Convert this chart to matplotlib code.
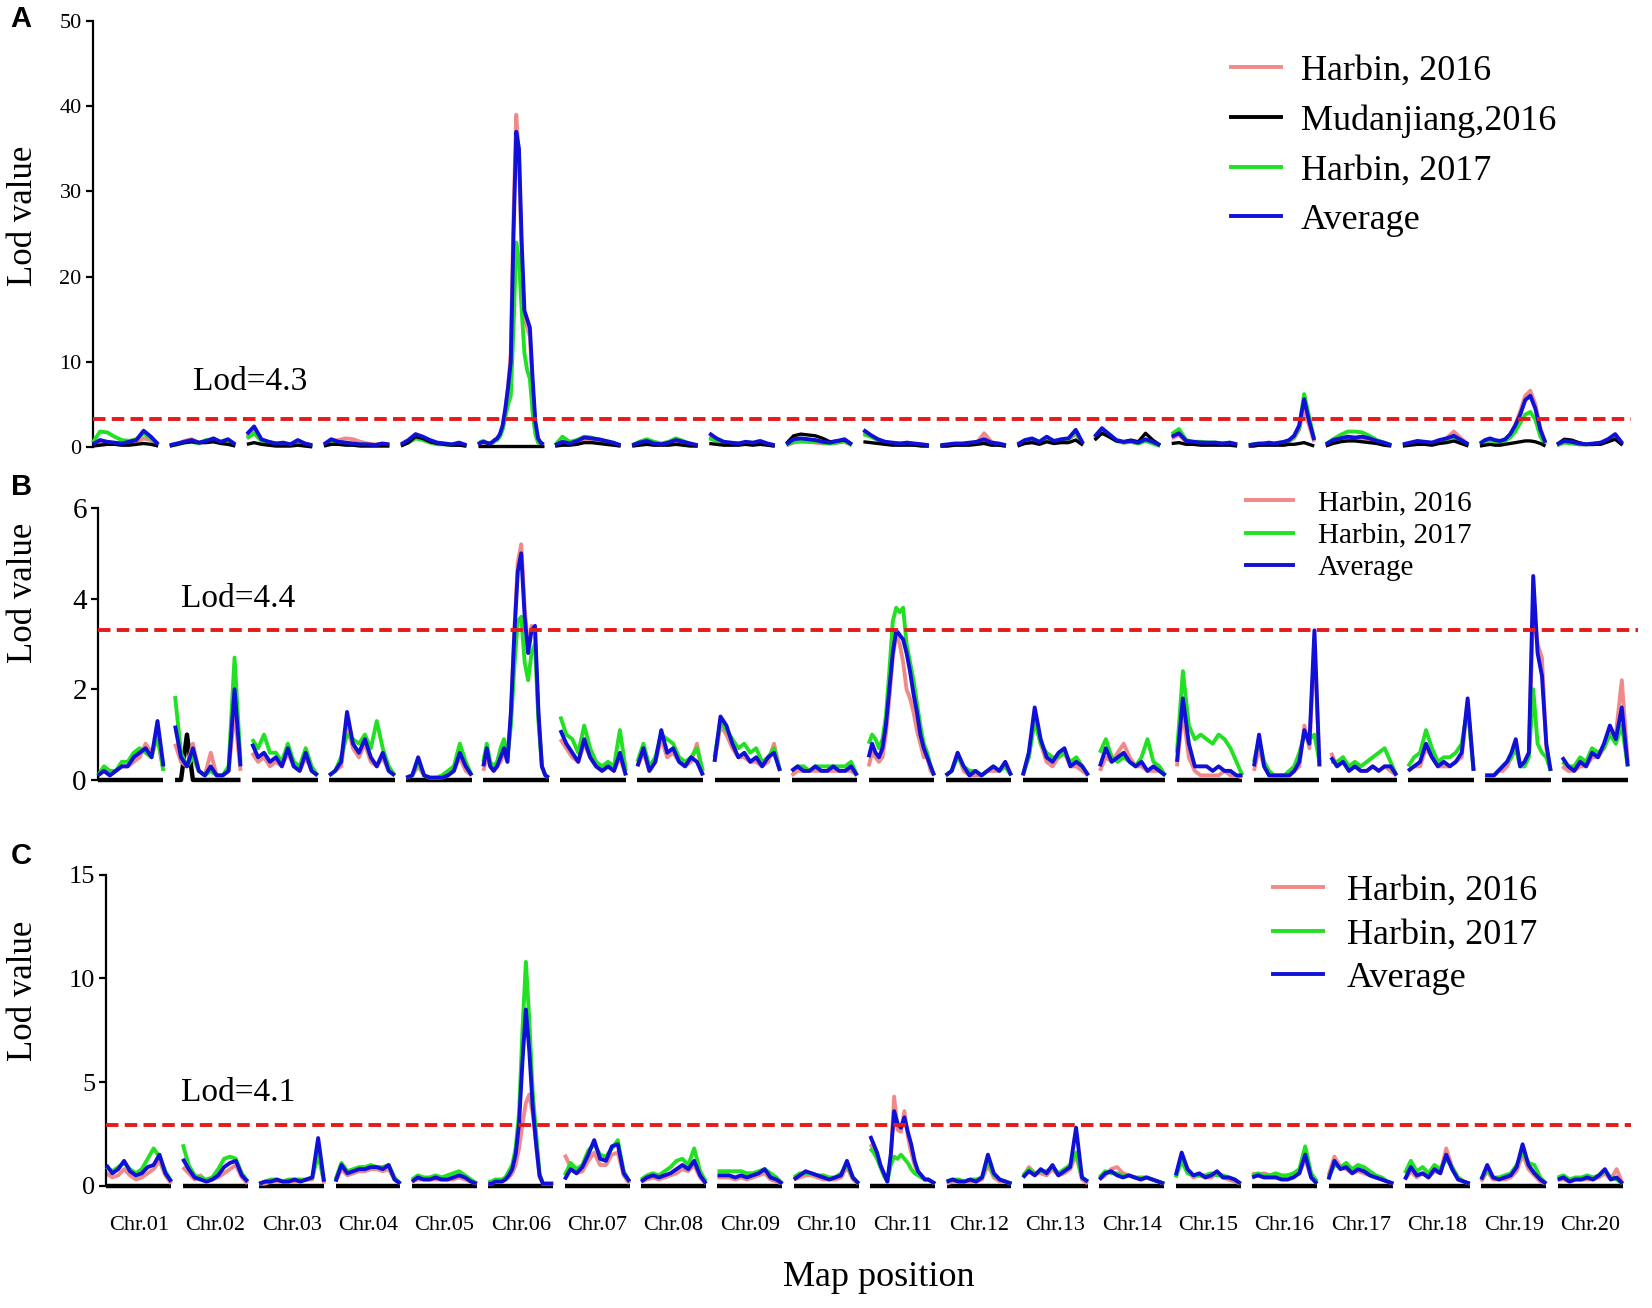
import numpy as np
import matplotlib
matplotlib.use("Agg")
import matplotlib.pyplot as plt
from matplotlib.lines import Line2D

plt.rcParams["font.family"] = ["Liberation Serif", "DejaVu Serif"]
plt.rcParams["lines.scale_dashes"] = False

# ---------------- data ----------------
chrom_names = ["Chr.01", "Chr.02", "Chr.03", "Chr.04", "Chr.05", "Chr.06", "Chr.07",
               "Chr.08", "Chr.09", "Chr.10", "Chr.11", "Chr.12", "Chr.13", "Chr.14",
               "Chr.15", "Chr.16", "Chr.17", "Chr.18", "Chr.19", "Chr.20"]
chrom_len = 62      # map length of each linkage group (plot units)
chrom_gap = 11      # gap between linkage groups

thresholds = {"A": 3.3, "B": 3.3, "C": 2.95}
threshold_labels = {"A": "Lod=4.3", "B": "Lod=4.4", "C": "Lod=4.1"}
A_ticks = [0, 10, 20, 30, 40, 50]
B_ticks = [0, 2, 4, 6]
C_ticks = [0, 5, 10, 15]

# Panel A
A_harbin2016 = [
    [0.2,0.5,0.5,0.4,0.3,0.4,0.5,1.0,0.8,0.2],
    [0.2,0.3,0.7,0.9,0.5,0.6,0.8,0.5,0.7,0.2],
    [1.2,2.0,0.8,0.5,0.3,0.4,0.3,0.6,0.3,0.2],
    [0.2,0.7,0.8,1.0,0.9,0.6,0.4,0.3,0.3,0.2],
    [0.2,0.6,1.2,1.0,0.6,0.4,0.3,0.2,0.4,0.1],
    [0.2,0.4,0.5,0.4,0.3,0.4,0.6,0.9,1.3,2.3,4.2,7,11,27,39,34,22,15,14,13,7,2.5,0.8,0.4,0.2],
    [0.1,0.4,0.3,0.5,0.8,0.8,0.7,0.5,0.4,0.1],
    [0.1,0.4,0.5,0.3,0.3,0.4,0.6,0.5,0.3,0.1],
    [1.2,0.8,0.5,0.4,0.3,0.5,0.4,0.5,0.3,0.1],
    [0.2,0.5,0.6,0.6,0.5,0.4,0.4,0.5,0.6,0.2],
    [1.8,1.3,0.8,0.5,0.4,0.4,0.4,0.3,0.3,0.1],
    [0.1,0.2,0.3,0.3,0.4,0.5,1.6,0.6,0.3,0.1],
    [0.2,0.6,0.8,0.5,1.0,0.6,0.7,0.9,1.5,0.3],
    [1.0,1.8,1.2,0.7,0.5,0.6,0.4,0.8,0.5,0.2],
    [1.0,1.4,0.6,0.5,0.4,0.4,0.4,0.3,0.4,0.2],
    [0.1,0.2,0.3,0.3,0.4,0.3,0.4,0.5,0.7,1.0,2.0,4.5,2.5,0.6],
    [0.2,0.6,0.8,1.0,0.9,1.0,0.8,0.6,0.4,0.2],
    [0.2,0.4,0.6,0.5,0.5,0.7,1.0,1.8,1.0,0.3],
    [0.3,0.6,0.8,0.7,0.6,0.8,1.4,2.6,4.2,6.0,6.6,5.0,2.2,0.4],
    [0.2,0.5,0.5,0.3,0.3,0.3,0.4,0.7,1.2,0.3],
]
A_mudanjiang2016 = [
    [0.1,0.2,0.3,0.3,0.2,0.2,0.3,0.4,0.3,0.1],
    [0.1,0.3,0.5,0.6,0.5,0.5,0.6,0.4,0.3,0.1],
    [0.3,0.5,0.3,0.2,0.1,0.1,0.1,0.2,0.1,0.0],
    [0.1,0.3,0.3,0.2,0.2,0.1,0.1,0.1,0.1,0.1],
    [0.1,0.5,1.2,1.0,0.6,0.4,0.3,0.2,0.2,0.1],
    [0.1,0.1,0.1,0.1,0.1,0.1,0.1,0.1,0.1,0.1,0.1,0.1,0.1,0.1,0.1,0.1,0.1,0.1,0.1,0.1,0.1,0.1,0.1,0.1,0.1],
    [0.1,0.2,0.2,0.3,0.5,0.5,0.4,0.3,0.2,0.1],
    [0.1,0.2,0.3,0.2,0.2,0.2,0.3,0.2,0.1,0.1],
    [0.4,0.3,0.2,0.2,0.2,0.3,0.2,0.3,0.2,0.1],
    [0.4,1.3,1.5,1.4,1.3,1.0,0.6,0.7,0.8,0.3],
    [0.6,0.5,0.4,0.3,0.2,0.2,0.2,0.2,0.1,0.1],
    [0.1,0.1,0.2,0.2,0.2,0.3,0.4,0.2,0.2,0.1],
    [0.1,0.4,0.5,0.3,0.6,0.4,0.5,0.5,0.8,0.2],
    [0.8,1.6,1.2,0.7,0.6,0.8,0.6,1.6,0.8,0.2],
    [0.4,0.5,0.3,0.3,0.2,0.2,0.2,0.2,0.2,0.1],
    [0.1,0.1,0.2,0.2,0.2,0.2,0.2,0.2,0.3,0.3,0.4,0.5,0.3,0.1],
    [0.1,0.4,0.6,0.7,0.7,0.6,0.5,0.4,0.2,0.1],
    [0.1,0.2,0.3,0.3,0.2,0.4,0.5,0.7,0.4,0.1],
    [0.1,0.2,0.3,0.2,0.2,0.3,0.4,0.5,0.6,0.7,0.7,0.6,0.4,0.1],
    [0.3,0.9,0.8,0.5,0.3,0.3,0.3,0.6,0.9,0.2],
]
A_harbin2017 = [
    [0.5,1.8,1.7,1.2,0.8,0.7,0.9,1.6,1.0,0.3],
    [0.1,0.3,0.5,0.6,0.4,0.8,0.7,0.5,0.6,0.2],
    [1.0,1.6,0.7,0.6,0.4,0.4,0.3,0.5,0.3,0.1],
    [0.2,0.6,0.5,0.4,0.3,0.3,0.2,0.2,0.3,0.2],
    [0.2,0.5,1.0,0.8,0.5,0.3,0.3,0.2,0.3,0.1],
    [0.3,0.6,0.7,0.5,0.4,0.5,0.7,0.8,1.2,2,3.5,5,6,14,24,22,16,11,9,8,4,1.5,0.5,0.4,0.2],
    [0.2,1.2,0.6,0.8,1.2,1.1,0.8,0.6,0.4,0.2],
    [0.2,0.6,0.9,0.6,0.4,0.6,1.0,0.7,0.3,0.1],
    [1.0,0.7,0.5,0.4,0.4,0.5,0.4,0.6,0.3,0.1],
    [0.2,0.6,0.7,0.6,0.6,0.5,0.4,0.5,0.7,0.2],
    [1.5,1.2,0.8,0.5,0.4,0.3,0.4,0.3,0.2,0.1],
    [0.1,0.2,0.3,0.3,0.3,0.4,0.7,0.4,0.3,0.1],
    [0.2,0.7,0.9,0.5,1.1,0.6,0.8,0.9,1.7,0.3],
    [0.9,1.7,1.2,0.7,0.5,0.6,0.4,0.7,0.4,0.1],
    [1.5,2.1,0.8,0.6,0.6,0.5,0.5,0.4,0.5,0.2],
    [0.2,0.3,0.3,0.4,0.4,0.4,0.4,0.5,0.7,1.2,2.2,6.2,3.5,0.9],
    [0.3,0.9,1.4,1.8,1.8,1.7,1.3,0.8,0.5,0.2],
    [0.2,0.4,0.5,0.5,0.4,0.6,0.9,1.2,0.7,0.2],
    [0.3,0.6,0.8,0.6,0.5,0.7,1.1,1.8,2.8,3.8,4.1,3.2,1.2,0.3],
    [0.2,0.5,0.4,0.3,0.3,0.3,0.4,0.8,1.3,0.3],
]
A_average = [
    [0.3,0.8,0.6,0.5,0.4,0.6,0.8,1.9,1.2,0.3],
    [0.2,0.4,0.6,0.8,0.5,0.7,1.0,0.6,0.9,0.3],
    [1.5,2.4,0.9,0.6,0.4,0.5,0.3,0.8,0.4,0.2],
    [0.3,0.9,0.6,0.5,0.4,0.3,0.3,0.2,0.4,0.3],
    [0.3,0.8,1.5,1.2,0.8,0.5,0.4,0.3,0.5,0.2],
    [0.3,0.5,0.6,0.5,0.4,0.5,0.8,1.0,1.5,2.5,4.5,7,10,25,37,35,24,16,15,14,8,3,1,0.5,0.3],
    [0.2,0.6,0.4,0.7,1.1,1.0,0.9,0.7,0.5,0.2],
    [0.2,0.5,0.7,0.4,0.3,0.5,0.8,0.6,0.4,0.2],
    [1.6,1.0,0.6,0.5,0.4,0.6,0.5,0.7,0.4,0.2],
    [0.3,0.9,1.0,0.9,0.8,0.6,0.5,0.7,0.9,0.3],
    [2.0,1.4,0.9,0.6,0.5,0.4,0.5,0.4,0.3,0.2],
    [0.2,0.3,0.4,0.4,0.5,0.6,0.9,0.5,0.4,0.2],
    [0.3,0.8,1.0,0.6,1.2,0.7,0.9,1.0,2.0,0.4],
    [1.2,2.2,1.5,0.8,0.6,0.7,0.5,0.9,0.6,0.2],
    [1.2,1.6,0.7,0.6,0.5,0.5,0.5,0.4,0.5,0.3],
    [0.2,0.3,0.4,0.4,0.5,0.4,0.5,0.6,0.8,1.3,2.5,5.6,3.0,0.8],
    [0.3,0.8,1.0,1.2,1.1,1.2,1.0,0.7,0.5,0.2],
    [0.3,0.5,0.7,0.6,0.5,0.8,1.0,1.3,0.8,0.3],
    [0.4,0.8,1.0,0.8,0.7,0.9,1.5,2.5,3.8,5.5,6.0,4.5,2.0,0.5],
    [0.3,0.7,0.6,0.4,0.3,0.4,0.5,0.9,1.5,0.4],
]

# Panel B
B_harbin2016 = [
    [0.1,0.2,0.1,0.2,0.3,0.3,0.4,0.5,0.8,0.6,0.9,0.2],
    [0.8,0.4,0.3,0.8,0.2,0.1,0.6,0.1,0.1,0.2,1.5,0.2],
    [0.6,0.4,0.5,0.3,0.4,0.3,0.6,0.3,0.2,0.5,0.2,0.1],
    [0.1,0.2,0.3,1.2,0.7,0.5,0.8,0.4,0.3,0.5,0.2,0.1],
    [0.05,0.1,0.3,0.1,0.05,0.05,0.05,0.1,0.2,0.5,0.2,0.1],
    [0.2,0.5,0.3,0.2,0.3,0.4,0.6,0.4,1.4,3.3,4.8,5.2,3.8,2.9,3.4,3.2,1.4,0.3,0.1,0.05],
    [0.9,0.7,0.5,0.4,0.8,0.5,0.3,0.2,0.3,0.2,0.5,0.1],
    [0.3,0.6,0.2,0.4,0.9,0.5,0.6,0.4,0.3,0.4,0.8,0.1],
    [0.4,1.2,1.0,0.7,0.5,0.5,0.4,0.4,0.3,0.4,0.8,0.2],
    [0.1,0.2,0.2,0.2,0.2,0.2,0.2,0.2,0.2,0.2,0.2,0.1],
    [0.3,0.6,0.5,0.4,0.5,1.0,1.8,2.7,3.2,3.0,2.6,2.0,1.8,1.5,1.1,0.8,0.5,0.5,0.2,0.1],
    [0.1,0.2,0.6,0.2,0.1,0.1,0.1,0.2,0.2,0.2,0.3,0.1],
    [0.1,0.5,1.4,0.8,0.4,0.3,0.5,0.6,0.3,0.3,0.2,0.1],
    [0.2,0.5,0.4,0.6,0.8,0.5,0.3,0.3,0.2,0.2,0.2,0.1],
    [0.3,1.5,0.5,0.2,0.1,0.1,0.1,0.1,0.2,0.1,0.1,0.05],
    [0.2,0.7,0.3,0.1,0.1,0.1,0.1,0.1,0.2,0.3,1.2,0.7,3.0,0.3],
    [0.6,0.3,0.5,0.2,0.3,0.2,0.2,0.3,0.2,0.3,0.2,0.1],
    [0.2,0.3,0.3,0.7,0.5,0.3,0.3,0.3,0.4,0.5,1.7,0.2],
    [0.1,0.1,0.1,0.2,0.2,0.3,0.5,0.8,0.3,0.4,0.6,3.8,3.0,2.7,0.7,0.2],
    [0.3,0.2,0.2,0.3,0.3,0.5,0.5,0.7,1.1,1.0,2.2,0.4],
]
B_harbin2017 = [
    [0.1,0.3,0.2,0.2,0.4,0.4,0.6,0.7,0.6,0.5,1.0,0.2],
    [1.85,0.6,0.3,0.5,0.2,0.1,0.2,0.1,0.1,0.3,2.7,0.4],
    [0.9,0.7,1.0,0.6,0.6,0.4,0.8,0.4,0.3,0.7,0.3,0.1],
    [0.1,0.2,0.5,1.0,0.9,0.8,1.0,0.7,1.3,0.7,0.3,0.1],
    [0.05,0.1,0.4,0.1,0.05,0.05,0.1,0.2,0.3,0.8,0.4,0.1],
    [0.4,0.8,0.4,0.3,0.4,0.7,0.9,0.5,1.2,2.5,3.5,3.6,2.6,2.2,2.8,3.0,1.3,0.3,0.1,0.05],
    [1.4,1.0,0.9,0.6,1.2,0.7,0.4,0.3,0.4,0.3,1.1,0.2],
    [0.4,0.8,0.3,0.5,1.0,0.9,0.8,0.5,0.4,0.5,0.7,0.2],
    [0.5,1.3,1.1,0.9,0.7,0.8,0.6,0.7,0.4,0.5,0.7,0.2],
    [0.2,0.3,0.3,0.2,0.3,0.3,0.3,0.3,0.3,0.3,0.4,0.1],
    [0.8,1.0,0.9,0.7,0.9,1.4,2.4,3.5,3.8,3.7,3.8,3.0,2.6,2.2,1.7,1.2,0.8,0.6,0.3,0.1],
    [0.1,0.2,0.5,0.3,0.2,0.2,0.1,0.2,0.3,0.2,0.3,0.1],
    [0.1,0.5,1.3,0.8,0.6,0.5,0.5,0.6,0.4,0.5,0.3,0.1],
    [0.6,0.9,0.5,0.4,0.5,0.4,0.3,0.5,0.9,0.4,0.3,0.1],
    [0.6,2.4,1.2,0.9,1.0,0.9,0.8,1.0,0.9,0.7,0.4,0.1],
    [0.4,0.9,0.4,0.2,0.1,0.1,0.1,0.2,0.3,0.6,1.0,0.9,1.0,0.4],
    [0.4,0.4,0.5,0.3,0.4,0.3,0.4,0.5,0.6,0.7,0.4,0.1],
    [0.3,0.5,0.6,1.1,0.7,0.4,0.5,0.5,0.6,0.8,1.6,0.2],
    [0.1,0.1,0.1,0.2,0.3,0.4,0.5,0.7,0.3,0.3,0.5,2.0,0.8,0.6,0.5,0.2],
    [0.4,0.3,0.3,0.5,0.4,0.7,0.6,0.7,1.0,0.8,1.2,0.3],
]
B_average = [
    [0.1,0.2,0.1,0.2,0.3,0.3,0.5,0.6,0.7,0.5,1.3,0.3],
    [1.2,0.5,0.3,0.7,0.2,0.1,0.3,0.1,0.1,0.2,2.0,0.3],
    [0.8,0.5,0.6,0.4,0.5,0.3,0.7,0.3,0.2,0.6,0.2,0.1],
    [0.1,0.2,0.4,1.5,0.8,0.6,0.9,0.5,0.3,0.6,0.2,0.1],
    [0.05,0.1,0.5,0.1,0.05,0.05,0.05,0.1,0.2,0.6,0.3,0.1],
    [0.3,0.7,0.3,0.2,0.3,0.5,0.7,0.4,1.5,3.2,4.6,5.0,3.6,2.8,3.3,3.4,1.5,0.3,0.1,0.05],
    [1.1,0.8,0.6,0.4,0.9,0.5,0.3,0.2,0.3,0.2,0.6,0.1],
    [0.3,0.7,0.2,0.4,1.1,0.6,0.7,0.4,0.3,0.5,0.4,0.1],
    [0.4,1.4,1.2,0.8,0.5,0.6,0.4,0.5,0.3,0.5,0.6,0.2],
    [0.2,0.3,0.2,0.2,0.3,0.2,0.2,0.3,0.2,0.2,0.3,0.1],
    [0.5,0.8,0.6,0.5,0.7,1.2,2.0,2.8,3.3,3.2,3.1,2.8,2.4,1.9,1.5,1.0,0.7,0.5,0.3,0.1],
    [0.1,0.2,0.6,0.3,0.1,0.2,0.1,0.2,0.3,0.2,0.4,0.1],
    [0.1,0.6,1.6,0.9,0.5,0.4,0.6,0.7,0.3,0.4,0.3,0.1],
    [0.3,0.7,0.4,0.5,0.6,0.4,0.3,0.4,0.2,0.3,0.2,0.1],
    [0.4,1.8,0.8,0.3,0.3,0.3,0.2,0.3,0.2,0.2,0.1,0.1],
    [0.3,1.0,0.3,0.1,0.1,0.1,0.1,0.1,0.2,0.4,1.1,0.8,3.3,0.3],
    [0.5,0.3,0.4,0.2,0.3,0.2,0.2,0.3,0.2,0.3,0.3,0.1],
    [0.2,0.3,0.4,0.8,0.5,0.3,0.4,0.3,0.4,0.6,1.8,0.2],
    [0.1,0.1,0.1,0.2,0.3,0.4,0.6,0.9,0.3,0.4,0.6,4.5,2.8,2.3,0.8,0.2],
    [0.5,0.3,0.2,0.4,0.3,0.6,0.5,0.8,1.2,0.9,1.6,0.3],
]
B_baseline = [
    [0.0,0.0], [0.0,0.0,1.0,0.0,0.0,0.0,0.0,0.0,0.0,0.0,0.0,0.0], [0.0,0.0], [0.0,0.0],
    [0.0,0.0], [0.0,0.0], [0.0,0.0], [0.0,0.0], [0.0,0.0], [0.0,0.0],
    [0.0,0.0], [0.0,0.0], [0.0,0.0], [0.0,0.0], [0.0,0.0], [0.0,0.0],
    [0.0,0.0], [0.0,0.0], [0.0,0.0], [0.0,0.0],
]

# Panel C
C_harbin2016 = [
    [0.6,0.4,0.5,0.8,0.5,0.3,0.4,0.6,0.8,1.2,0.5,0.1],
    [0.9,0.6,0.3,0.5,0.2,0.3,0.4,0.6,0.8,1.0,0.4,0.1],
    [0.1,0.1,0.2,0.2,0.2,0.2,0.2,0.2,0.3,0.3,1.8,0.1],
    [0.2,0.8,0.5,0.6,0.7,0.7,0.8,0.8,0.7,0.8,0.3,0.1],
    [0.2,0.3,0.3,0.3,0.3,0.3,0.3,0.3,0.4,0.3,0.2,0.1],
    [0.1,0.1,0.2,0.2,0.2,0.3,0.4,0.6,1.0,1.8,3.0,4.0,4.4,3.5,2.0,0.4,0.1,0.1,0.1,0.1],
    [1.5,0.9,0.6,0.7,1.2,1.6,1.0,1.0,1.5,1.6,0.5,0.1],
    [0.2,0.3,0.4,0.3,0.4,0.5,0.6,0.8,0.7,1.0,0.4,0.1],
    [0.4,0.4,0.4,0.3,0.4,0.3,0.4,0.5,0.6,0.3,0.2,0.1],
    [0.3,0.4,0.5,0.5,0.4,0.3,0.3,0.3,0.4,0.9,0.3,0.1],
    [2.0,1.8,1.4,0.9,0.5,0.2,1.3,4.3,2.7,2.6,3.6,2.4,1.6,1.0,0.6,0.5,0.3,0.3,0.2,0.1],
    [0.1,0.2,0.2,0.2,0.2,0.2,0.3,1.0,0.4,0.2,0.2,0.1],
    [0.4,0.9,0.6,0.6,0.5,0.8,0.5,0.6,0.8,1.5,0.3,0.1],
    [0.3,0.5,0.8,0.9,0.6,0.5,0.4,0.3,0.4,0.3,0.2,0.1],
    [0.4,1.3,0.7,0.4,0.5,0.4,0.4,0.6,0.4,0.3,0.2,0.1],
    [0.6,0.5,0.6,0.5,0.5,0.4,0.5,0.5,0.6,1.3,0.4,0.1],
    [0.5,1.4,0.9,0.8,0.6,0.7,0.6,0.5,0.4,0.3,0.2,0.1],
    [0.3,0.7,0.4,0.6,0.4,0.7,0.6,1.8,0.9,0.4,0.2,0.1],
    [0.2,0.7,0.3,0.3,0.3,0.4,0.7,1.5,0.8,0.5,0.2,0.1],
    [0.3,0.3,0.2,0.3,0.3,0.3,0.3,0.4,0.6,0.3,0.8,0.1],
]
C_harbin2017 = [
    [0.9,0.7,0.9,1.1,0.8,0.6,0.8,1.3,1.8,1.4,0.7,0.2],
    [2.0,1.0,0.5,0.4,0.3,0.4,0.8,1.3,1.4,1.3,0.6,0.2],
    [0.1,0.2,0.3,0.3,0.2,0.3,0.3,0.3,0.3,0.4,1.5,0.2],
    [0.3,1.1,0.7,0.8,0.9,0.9,1.0,0.9,0.9,1.0,0.4,0.1],
    [0.3,0.5,0.4,0.4,0.5,0.4,0.5,0.6,0.7,0.5,0.3,0.1],
    [0.2,0.2,0.3,0.3,0.3,0.4,0.7,1.0,1.8,3.5,7.5,10.8,8.0,4.5,2.5,0.6,0.1,0.1,0.1,0.1],
    [0.5,1.1,0.8,1.0,1.7,2.0,1.5,1.4,1.8,2.2,0.7,0.2],
    [0.3,0.5,0.6,0.5,0.7,0.9,1.2,1.3,1.0,1.8,0.7,0.2],
    [0.7,0.7,0.7,0.7,0.7,0.6,0.6,0.7,0.8,0.6,0.4,0.1],
    [0.4,0.6,0.6,0.6,0.5,0.5,0.4,0.4,0.6,1.0,0.4,0.1],
    [1.8,1.6,1.3,0.9,0.5,0.2,1.0,1.4,1.3,1.5,1.3,1.1,0.8,0.6,0.5,0.4,0.3,0.3,0.2,0.1],
    [0.2,0.3,0.3,0.2,0.3,0.3,0.4,1.2,0.5,0.3,0.2,0.1],
    [0.5,0.8,0.6,0.7,0.7,0.9,0.6,0.8,1.0,1.6,0.4,0.2],
    [0.4,0.7,0.6,0.6,0.5,0.5,0.4,0.4,0.4,0.3,0.2,0.1],
    [0.4,1.2,0.6,0.5,0.5,0.5,0.6,0.5,0.5,0.4,0.3,0.1],
    [0.5,0.6,0.5,0.5,0.6,0.5,0.5,0.6,0.8,1.9,0.6,0.2],
    [0.4,1.0,0.9,1.1,0.8,1.0,0.9,0.7,0.5,0.4,0.2,0.1],
    [0.6,1.2,0.7,0.9,0.6,1.0,0.8,1.3,0.9,0.4,0.2,0.1],
    [0.3,0.8,0.4,0.4,0.5,0.6,1.0,1.6,1.1,1.0,0.4,0.1],
    [0.4,0.5,0.3,0.4,0.4,0.5,0.4,0.5,0.7,0.4,0.3,0.1],
]
C_average = [
    [1.0,0.6,0.8,1.2,0.7,0.5,0.6,0.9,1.0,1.5,0.6,0.2],
    [1.3,0.8,0.4,0.3,0.2,0.3,0.5,0.9,1.1,1.2,0.5,0.2],
    [0.1,0.2,0.2,0.3,0.2,0.2,0.3,0.2,0.3,0.4,2.3,0.2],
    [0.2,1.0,0.6,0.7,0.8,0.8,0.9,0.9,0.8,1.0,0.3,0.1],
    [0.2,0.4,0.3,0.3,0.4,0.3,0.3,0.4,0.5,0.4,0.2,0.1],
    [0.1,0.1,0.2,0.2,0.2,0.3,0.5,0.8,1.5,3.0,6.0,8.5,6.5,3.8,2.0,0.5,0.1,0.1,0.1,0.1],
    [0.3,0.8,0.6,0.9,1.5,2.2,1.3,1.2,1.9,2.0,0.6,0.2],
    [0.2,0.4,0.5,0.4,0.5,0.6,0.8,1.0,0.8,1.2,0.5,0.1],
    [0.5,0.5,0.5,0.4,0.5,0.4,0.5,0.6,0.8,0.4,0.3,0.1],
    [0.3,0.5,0.7,0.6,0.5,0.4,0.3,0.4,0.5,1.2,0.4,0.1],
    [2.4,2.0,1.6,1.0,0.6,0.2,1.5,3.6,3.0,2.8,3.3,2.6,2.0,1.2,0.7,0.5,0.3,0.3,0.2,0.1],
    [0.2,0.3,0.2,0.2,0.3,0.2,0.4,1.5,0.6,0.3,0.2,0.1],
    [0.4,0.7,0.5,0.8,0.6,1.0,0.5,0.7,0.9,2.8,0.4,0.2],
    [0.3,0.6,0.7,0.5,0.4,0.5,0.4,0.3,0.4,0.3,0.2,0.1],
    [0.5,1.6,0.8,0.5,0.6,0.4,0.5,0.7,0.4,0.4,0.3,0.1],
    [0.4,0.5,0.4,0.4,0.4,0.3,0.3,0.4,0.6,1.5,0.4,0.1],
    [0.3,1.2,0.8,0.9,0.6,0.8,0.7,0.5,0.4,0.3,0.2,0.1],
    [0.3,0.9,0.5,0.6,0.4,0.8,0.6,1.5,0.8,0.3,0.2,0.1],
    [0.3,1.0,0.4,0.3,0.4,0.5,0.9,2.0,1.0,0.6,0.3,0.1],
    [0.3,0.4,0.2,0.3,0.3,0.4,0.3,0.5,0.8,0.3,0.4,0.1],
]
C_baseline = [
    [0.0,0.0], [0.0,0.0], [0.0,0.0], [0.0,0.0], [0.0,0.0], [0.0,0.0], [0.0,0.0],
    [0.0,0.0], [0.0,0.0], [0.0,0.0], [0.0,0.0], [0.0,0.0], [0.0,0.0], [0.0,0.0],
    [0.0,0.0], [0.0,0.0], [0.0,0.0], [0.0,0.0], [0.0,0.0], [0.0,0.0],
]

# ---------------- style ----------------
PINK = "#f08a88"
BLACK = "#000000"
GREEN = "#22e022"
BLUE = "#1010d8"
RED = "#e51b1b"
LW = 2.8

# layout frame of the reference picture (display pixels)
W, H = 1568.0, 1241.0
def fx(x): return x / W
def fy(y): return 1.0 - y / H

fig = plt.figure(figsize=(16.52, 13.08), dpi=100)

step = chrom_len + chrom_gap
xmax = 19 * step + chrom_len
centers = [i * step + chrom_len / 2 for i in range(20)]


def draw(ax, per_chrom, color, lw, z):
    for i, vals in enumerate(per_chrom):
        x = np.linspace(i * step, i * step + chrom_len, len(vals))
        ax.plot(x, vals, color=color, lw=lw, zorder=z, clip_on=False,
                solid_joinstyle="round", solid_capstyle="butt")


def setup(ax, ymax, yticks, tick_fs):
    ax.set_xlim(0, xmax + 8)
    ax.set_ylim(0, ymax)
    for s in ("top", "right", "bottom"):
        ax.spines[s].set_visible(False)
    ax.spines["left"].set_linewidth(1.6)
    ax.set_yticks(yticks)
    ax.set_yticklabels([str(t) for t in yticks], fontsize=tick_fs,
                       family=["Liberation Serif", "DejaVu Serif"])
    ax.tick_params(axis="y", length=5, width=1.6, pad=3)
    ax.set_xticks([])
    ax.patch.set_visible(False)


# Panel A
axA = fig.add_axes([fx(88), fy(424), fx(1548) - fx(88), fy(20) - fy(424)])
setup(axA, 50, A_ticks, 16)
draw(axA, A_harbin2016, PINK, LW, 2)
draw(axA, A_harbin2017, GREEN, LW, 3)
draw(axA, A_mudanjiang2016, BLACK, 2.4, 4)
draw(axA, A_average, BLUE, LW, 5)
axA.axhline(thresholds["A"], color=RED, lw=2.8, dashes=(9, 4.5), zorder=6)

# Panel B
axB = fig.add_axes([fx(93), fy(740), fx(1555) - fx(93), fy(482) - fy(740)])
setup(axB, 6, B_ticks, 21)
axB.set_xlim(0, xmax + 10)
draw(axB, B_baseline, BLACK, 3.2, 1)
draw(axB, B_harbin2016, PINK, LW, 2)
draw(axB, B_harbin2017, GREEN, LW, 3)
draw(axB, B_average, BLUE, LW, 5)
axB.axhline(thresholds["B"], color=RED, lw=2.8, dashes=(9, 4.5), zorder=6)

# Panel C
axC = fig.add_axes([fx(101), fy(1125), fx(1548) - fx(101), fy(830) - fy(1125)])
setup(axC, 15, C_ticks, 19)
draw(axC, C_baseline, BLACK, 3.2, 1)
draw(axC, C_harbin2016, PINK, LW, 2)
draw(axC, C_harbin2017, GREEN, LW, 3)
draw(axC, C_average, BLUE, LW, 5)
axC.axhline(thresholds["C"], color=RED, lw=2.8, dashes=(9, 4.5), zorder=6)
axC.set_xticks(centers)
axC.set_xticklabels(chrom_names, fontsize=16)
axC.tick_params(axis="x", length=0, pad=22)

# threshold labels
fig.text(fx(183), fy(362), threshold_labels["A"], fontsize=24, ha="left", va="center")
fig.text(fx(172), fy(568), threshold_labels["B"], fontsize=24, ha="left", va="center")
fig.text(fx(172), fy(1037), threshold_labels["C"], fontsize=24, ha="left", va="center")

# y labels
for yy in (205, 562, 940):
    fig.text(fx(22), fy(yy), "Lod value", fontsize=25, rotation=90, ha="center", va="center")

# panel letters
for letter, yy in (("A", 18), ("B", 462), ("C", 812)):
    fig.text(fx(10), fy(yy), letter, fontsize=21, fontweight="bold",
             family=["Liberation Sans", "DejaVu Sans"], ha="left", va="center")

fig.text(fx(834), fy(1212), "Map position", fontsize=26, ha="center", va="center")

# legends
def handle(c):
    return Line2D([], [], color=c, lw=2.8)

fig.legend([handle(PINK), handle(BLACK), handle(GREEN), handle(BLUE)],
           ["Harbin, 2016", "Mudanjiang,2016", "Harbin, 2017", "Average"],
           loc="upper left", bbox_to_anchor=(fx(1168), fy(52)), frameon=False,
           prop={"size": 26}, handlelength=1.4, handletextpad=0.55,
           labelspacing=0.45, borderpad=0, borderaxespad=0)
fig.legend([handle(PINK), handle(GREEN), handle(BLUE)],
           ["Harbin, 2016", "Harbin, 2017", "Average"],
           loc="upper left", bbox_to_anchor=(fx(1183), fy(465)), frameon=False,
           prop={"size": 21}, handlelength=1.6, handletextpad=0.85,
           labelspacing=0.2, borderpad=0, borderaxespad=0)
fig.legend([handle(PINK), handle(GREEN), handle(BLUE)],
           ["Harbin, 2016", "Harbin, 2017", "Average"],
           loc="upper left", bbox_to_anchor=(fx(1208), fy(830)), frameon=False,
           prop={"size": 26}, handlelength=1.4, handletextpad=0.65,
           labelspacing=0.28, borderpad=0, borderaxespad=0)

fig.savefig("out.png", dpi=100)
